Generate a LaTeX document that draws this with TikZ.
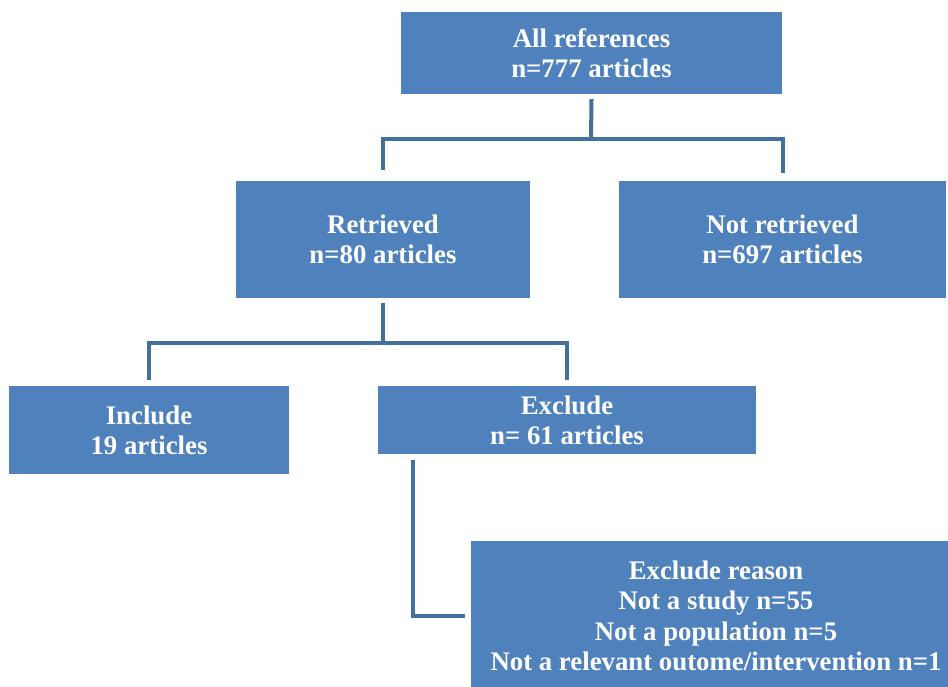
\documentclass[tikz,border=0pt]{standalone}
\usepackage{fontspec}
\setmainfont{Liberation Serif}
\definecolor{boxblue}{HTML}{4F81BD}
\definecolor{linkblue}{HTML}{41719C}

\begin{document}
\begin{tikzpicture}[x=1pt,y=-1pt,
  box/.style={fill=boxblue, text=white, inner sep=0pt, align=center,
    font=\fontsize{26.8}{30.3}\selectfont\bfseries},
  link/.style={draw=linkblue, line width=4pt}]
\useasboundingbox[fill=white] (0,0) rectangle (948,686);

% boxes
\node[box, minimum width=381pt, minimum height=82pt] (all) at (591.5,53) {All references\\n=777 articles};
\node[box, minimum width=294pt, minimum height=117pt] (ret) at (383,239.5) {Retrieved\\n=80 articles};
\node[box, minimum width=327pt, minimum height=117pt] (notret) at (782.5,239.5) {Not retrieved\\n=697 articles};
\node[box, minimum width=280pt, minimum height=88pt] (inc) at (149,430) {Include\\19 articles};
\node[box, minimum width=378pt, minimum height=68pt] (exc) at (567,420) {Exclude\\n= 61 articles};
\begin{scope}
\clip (0,0) rectangle (948,686);
\node[box, minimum width=490pt, minimum height=150pt] (reason) at (716,616)
  {Exclude reason\\Not a study n=55\\Not a population n=5\\Not a relevant outome/intervention n=1};
\end{scope}

% junction points
\coordinate (j1) at (591,139);
\coordinate (j2) at (383,343);

% connectors
\draw[link] ([yshift=-5pt]all.south) -- (j1);
\draw[link] ([yshift=11pt]ret.north) -- (ret.north |- j1) -- (notret.north |- j1) -- ([yshift=8pt]notret.north);
\draw[link] ([yshift=-5pt]ret.south) -- (j2);
\draw[link] ([yshift=6pt]inc.north) -- (inc.north |- j2) -- (exc.north |- j2) -- ([yshift=6pt]exc.north);
\draw[link] ([xshift=35pt,yshift=-6pt]exc.south west) |- ([xshift=-6pt]reason.west);
\end{tikzpicture}
\end{document}
